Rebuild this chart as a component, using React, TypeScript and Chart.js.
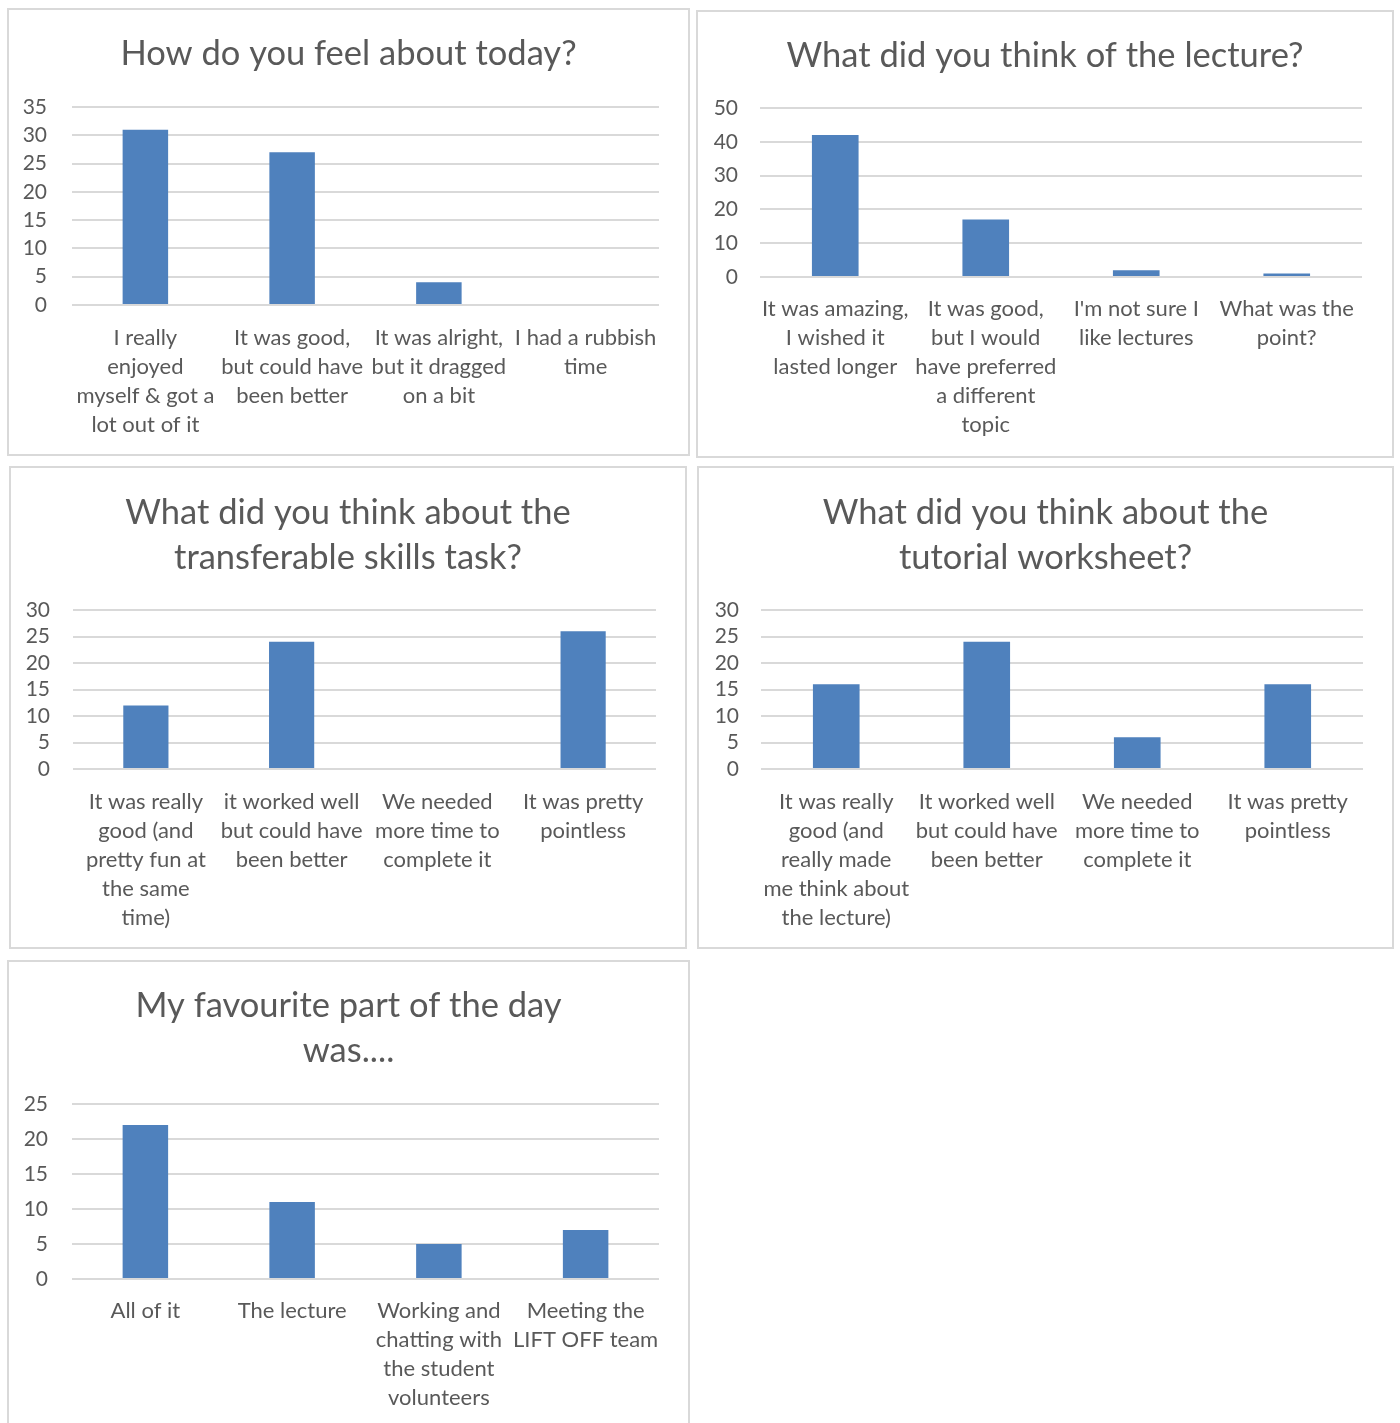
import React, { useEffect, useRef } from "react";
import { Chart, registerables } from "chart.js";

Chart.register(...registerables);

// ---------- DATA ----------
const todayTitle = ["How do you feel about today?"];
const todayCategories = [
  ["I really", "enjoyed", "myself & got a", "lot out of it"],
  ["It was good,", "but could have", "been better"],
  ["It was alright,", "but it dragged", "on a bit"],
  ["I had a rubbish", "time"],
];
const todayValues = [31, 27, 4, 0];

const lectureTitle = ["What did you think of the lecture?"];
const lectureCategories = [
  ["It was amazing,", "I wished it", "lasted longer"],
  ["It was good,", "but I would", "have preferred", "a different", "topic"],
  ["I'm not sure I", "like lectures"],
  ["What was the", "point?"],
];
const lectureValues = [42, 17, 2, 1];

const skillsTitle = ["What did you think about the", "transferable skills task?"];
const skillsCategories = [
  ["It was really", "good (and", "pretty fun at", "the same", "time)"],
  ["it worked well", "but could have", "been better"],
  ["We needed", "more time to", "complete it"],
  ["It was pretty", "pointless"],
];
const skillsValues = [12, 24, 0, 26];

const worksheetTitle = ["What did you think about the", "tutorial worksheet?"];
const worksheetCategories = [
  ["It was really", "good (and", "really made", "me think about", "the lecture)"],
  ["It worked well", "but could have", "been better"],
  ["We needed", "more time to", "complete it"],
  ["It was pretty", "pointless"],
];
const worksheetValues = [16, 24, 6, 16];

const favouriteTitle = ["My favourite part of the day", "was...."];
const favouriteCategories = [
  ["All of it"],
  ["The lecture"],
  ["Working and", "chatting with", "the student", "volunteers"],
  ["Meeting the", "LIFT OFF team"],
];
const favouriteValues = [22, 11, 5, 7];

const todayAxis = { max: 35, step: 5 };
const lectureAxis = { max: 50, step: 10 };
const skillsAxis = { max: 30, step: 5 };
const worksheetAxis = { max: 30, step: 5 };
const favouriteAxis = { max: 25, step: 5 };

// ---------- STYLE ----------
const FONT = "Lato, 'Open Sans', sans-serif";
const TEXT = "#595959";
const GRID = "#d9d9d9";
const BAR = "#4f81bd";
const BORDER = 2;
const TITLE_SIZE = 34.5;
const TITLE_LH = 45;
const LABEL_SIZE = 22;
const LABEL_LH = 29;
const YTICK_SIZE = 21;

type Layout = {
  box: { x: number; y: number; w: number; h: number };
  plot: { l: number; r: number; t: number; b: number };
  titleY: number;
  yLabelRight: number;
  xFirst: number;
};

type PanelProps = {
  layout: Layout;
  title: string[];
  categories: string[][];
  values: number[];
  axis: { max: number; step: number };
};

function Panel({ layout, title, categories, values, axis }: PanelProps) {
  const ref = useRef<HTMLCanvasElement | null>(null);
  const { box, plot } = layout;
  const cw = box.w - 2 * BORDER;
  const ch = box.h - 2 * BORDER;
  const cLeft = box.x + BORDER;
  const cTop = box.y + BORDER;

  useEffect(() => {
    if (!ref.current) return;
    const padTop = layout.titleY - cTop - TITLE_LH / 2;
    const padBottom = plot.t - cTop - padTop - title.length * TITLE_LH;
    const rightGap = cLeft + cw - plot.r;
    const yWidth = plot.l - cLeft;
    const yPad = plot.l - layout.yLabelRight;
    const xHeight = cTop + ch - plot.b;
    const xPad = layout.xFirst - plot.b - LABEL_LH / 2;

    const chart = new Chart(ref.current, {
      type: "bar",
      data: {
        labels: categories,
        datasets: [
          {
            data: values,
            backgroundColor: BAR,
            borderWidth: 0,
            barPercentage: 0.31,
            categoryPercentage: 1,
            yAxisID: "y",
          },
        ],
      },
      options: {
        animation: false,
        responsive: false,
        devicePixelRatio: 1,
        layout: { padding: 0 },
        plugins: {
          legend: { display: false },
          tooltip: { enabled: false },
          title: {
            display: true,
            text: title,
            color: TEXT,
            font: {
              family: FONT,
              size: TITLE_SIZE,
              weight: "normal",
              lineHeight: TITLE_LH / TITLE_SIZE,
            },
            padding: { top: padTop, bottom: padBottom },
          },
        },
        scales: {
          x: {
            grid: { display: false, drawTicks: false },
            border: { display: false },
            ticks: {
              color: TEXT,
              font: { family: FONT, size: LABEL_SIZE, lineHeight: LABEL_LH / LABEL_SIZE },
              padding: xPad,
              maxRotation: 0,
              minRotation: 0,
              autoSkip: false,
            },
            afterFit: (s: any) => {
              s.height = xHeight;
            },
          },
          y: {
            position: "left",
            min: 0,
            max: axis.max,
            grid: { color: GRID, lineWidth: 2, drawTicks: false },
            border: { display: false },
            ticks: {
              stepSize: axis.step,
              autoSkip: false,
              color: TEXT,
              font: { family: FONT, size: YTICK_SIZE, lineHeight: 1 },
              padding: yPad,
            },
            afterFit: (s: any) => {
              s.width = yWidth;
            },
          },
          spacer: {
            type: "linear",
            position: "right",
            grid: { display: false, drawTicks: false },
            border: { display: false },
            ticks: { display: false },
            afterFit: (s: any) => {
              s.width = rightGap;
            },
          },
        },
      },
    });
    return () => chart.destroy();
  }, []);

  return (
    <div
      style={{
        position: "absolute",
        left: box.x,
        top: box.y,
        width: box.w,
        height: box.h,
        border: `${BORDER}px solid #d9d9d9`,
        boxSizing: "border-box",
        background: "#fff",
      }}
    >
      <canvas ref={ref} width={cw} height={ch} style={{ display: "block" }} />
    </div>
  );
}

const layouts: Layout[] = [
  { box: { x: 7, y: 8, w: 683, h: 448 }, plot: { l: 72, r: 659, t: 107, b: 305 }, titleY: 54, yLabelRight: 47, xFirst: 338 },
  { box: { x: 696, y: 10, w: 698, h: 448 }, plot: { l: 760, r: 1362, t: 108, b: 277 }, titleY: 56, yLabelRight: 738, xFirst: 309 },
  { box: { x: 9, y: 466, w: 678, h: 483 }, plot: { l: 73, r: 656, t: 610, b: 769 }, titleY: 513, yLabelRight: 50, xFirst: 802 },
  { box: { x: 697, y: 466, w: 697, h: 483 }, plot: { l: 761, r: 1363, t: 610, b: 769 }, titleY: 513, yLabelRight: 739, xFirst: 802 },
  { box: { x: 7, y: 960, w: 683, h: 475 }, plot: { l: 72, r: 659, t: 1104, b: 1279 }, titleY: 1006, yLabelRight: 48, xFirst: 1311 },
];

export default function App() {
  return (
    <div
      style={{
        position: "absolute",
        left: 0,
        top: 0,
        width: 1400,
        height: 1423,
        overflow: "hidden",
        background: "#fff",
      }}
    >
      <Panel layout={layouts[0]} title={todayTitle} categories={todayCategories} values={todayValues} axis={todayAxis} />
      <Panel layout={layouts[1]} title={lectureTitle} categories={lectureCategories} values={lectureValues} axis={lectureAxis} />
      <Panel layout={layouts[2]} title={skillsTitle} categories={skillsCategories} values={skillsValues} axis={skillsAxis} />
      <Panel layout={layouts[3]} title={worksheetTitle} categories={worksheetCategories} values={worksheetValues} axis={worksheetAxis} />
      <Panel layout={layouts[4]} title={favouriteTitle} categories={favouriteCategories} values={favouriteValues} axis={favouriteAxis} />
    </div>
  );
}
